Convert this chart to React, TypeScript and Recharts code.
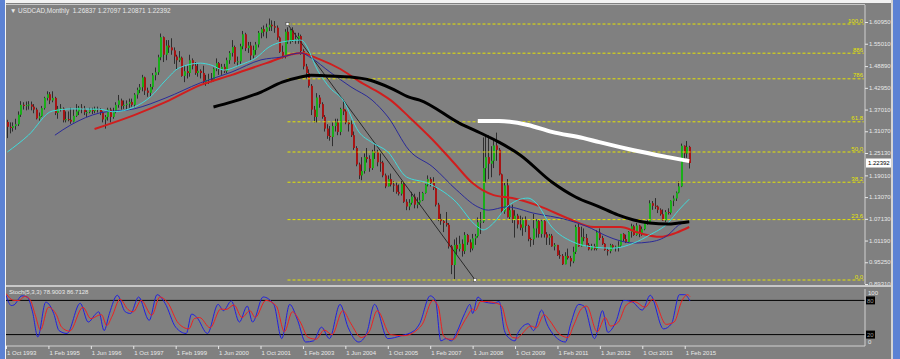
import React from 'react'
import { ComposedChart, Bar, Line, XAxis, YAxis, ReferenceLine, ReferenceDot } from 'recharts'

const FONT = '"Liberation Sans", Arial, sans-serif'
const TEXT = '#e8e8e8'
const BG = '#808080'
const YELLOW = '#e4e400'

// monthly bars, index 0 = Oct 1993 ... 258 = Apr 2015
const opens = [
  1.336, 1.323, 1.320,
  1.325, 1.330, 1.356, 1.383, 1.380, 1.382, 1.384, 1.378, 1.370, 1.346, 1.352, 1.374,
  1.402, 1.412, 1.395, 1.402, 1.361, 1.372, 1.373, 1.341, 1.344, 1.342, 1.337, 1.353,
  1.365, 1.375, 1.373, 1.363, 1.363, 1.369, 1.366, 1.372, 1.370, 1.362, 1.343, 1.350,
  1.370, 1.350, 1.365, 1.383, 1.395, 1.380, 1.383, 1.386, 1.391, 1.383, 1.411, 1.424,
  1.431, 1.458, 1.422, 1.416, 1.432, 1.464, 1.472, 1.513, 1.568, 1.520, 1.545, 1.540,
  1.532, 1.515, 1.505, 1.512, 1.462, 1.475, 1.470, 1.505, 1.490, 1.470, 1.476, 1.470,
  1.445, 1.451, 1.454, 1.451, 1.482, 1.497, 1.480, 1.487, 1.475, 1.505, 1.525, 1.541,
  1.500, 1.502, 1.543, 1.576, 1.538, 1.545, 1.518, 1.533, 1.548, 1.580, 1.590, 1.583,
  1.595, 1.602, 1.598, 1.594, 1.567, 1.528, 1.517, 1.583, 1.557, 1.587, 1.560, 1.563,
  1.571, 1.530, 1.488, 1.470, 1.435, 1.370, 1.350, 1.403, 1.385, 1.350, 1.318, 1.298,
  1.295, 1.325, 1.335, 1.309, 1.372, 1.365, 1.335, 1.330, 1.300, 1.265, 1.220, 1.190,
  1.202, 1.240, 1.235, 1.210, 1.255, 1.254, 1.226, 1.225, 1.190, 1.160, 1.180, 1.165,
  1.163, 1.145, 1.140, 1.167, 1.118, 1.105, 1.115, 1.132, 1.110, 1.116, 1.122, 1.142,
  1.165, 1.180, 1.170, 1.155, 1.110, 1.070, 1.065, 1.060, 1.055, 0.996, 0.945, 1.000,
  0.989, 1.003, 0.983, 1.027, 1.007, 0.990, 1.018, 1.024, 1.062, 1.064, 1.210, 1.240,
  1.222, 1.230, 1.272, 1.260, 1.193, 1.091, 1.163, 1.076, 1.095, 1.070, 1.080, 1.056,
  1.047, 1.068, 1.052, 1.016, 1.015, 1.045, 1.065, 1.030, 1.065, 1.029, 1.020, 1.025,
  0.996, 1.000, 0.972, 0.970, 0.947, 0.970, 0.964, 0.955, 0.981, 1.049, 0.996, 1.021,
  1.019, 1.000, 0.988, 0.997, 0.989, 1.034, 1.019, 1.003, 0.986, 0.983, 0.999, 0.993,
  0.995, 0.998, 1.030, 1.016, 1.008, 1.036, 1.051, 1.027, 1.053, 1.030, 1.043, 1.062,
  1.062, 1.114, 1.107, 1.105, 1.096, 1.084, 1.067, 1.090, 1.088, 1.121, 1.127, 1.143,
  1.160, 1.271, 1.250, 1.268,
]
const highs = [
  1.342, 1.335, 1.335,
  1.345, 1.365, 1.393, 1.390, 1.392, 1.393, 1.392, 1.385, 1.375, 1.362, 1.380, 1.405,
  1.420, 1.418, 1.420, 1.405, 1.380, 1.385, 1.376, 1.365, 1.365, 1.375, 1.370, 1.385,
  1.380, 1.385, 1.380, 1.368, 1.375, 1.375, 1.378, 1.378, 1.374, 1.365, 1.355, 1.375,
  1.375, 1.375, 1.390, 1.410, 1.400, 1.395, 1.395, 1.400, 1.400, 1.415, 1.430, 1.440,
  1.465, 1.460, 1.430, 1.440, 1.470, 1.485, 1.520, 1.578, 1.570, 1.560, 1.560, 1.565,
  1.540, 1.520, 1.530, 1.515, 1.490, 1.490, 1.520, 1.510, 1.500, 1.495, 1.480, 1.490,
  1.465, 1.468, 1.470, 1.485, 1.510, 1.500, 1.495, 1.495, 1.512, 1.530, 1.560, 1.545,
  1.515, 1.550, 1.585, 1.580, 1.555, 1.555, 1.545, 1.555, 1.585, 1.595, 1.600, 1.605,
  1.619, 1.614, 1.612, 1.600, 1.570, 1.545, 1.590, 1.595, 1.590, 1.595, 1.580, 1.580,
  1.575, 1.535, 1.495, 1.480, 1.440, 1.380, 1.415, 1.410, 1.390, 1.355, 1.330, 1.325,
  1.335, 1.345, 1.345, 1.375, 1.397, 1.370, 1.340, 1.340, 1.310, 1.270, 1.225, 1.240,
  1.250, 1.265, 1.245, 1.260, 1.275, 1.260, 1.250, 1.230, 1.195, 1.190, 1.195, 1.175,
  1.170, 1.165, 1.175, 1.170, 1.125, 1.125, 1.145, 1.140, 1.130, 1.145, 1.145, 1.167,
  1.190, 1.185, 1.185, 1.160, 1.115, 1.085, 1.070, 1.090, 1.060, 1.000, 1.015, 1.020,
  1.025, 1.015, 1.035, 1.030, 1.015, 1.030, 1.030, 1.075, 1.090, 1.294, 1.297, 1.300,
  1.270, 1.290, 1.307, 1.265, 1.195, 1.170, 1.180, 1.110, 1.110, 1.095, 1.085, 1.080,
  1.075, 1.078, 1.055, 1.020, 1.085, 1.070, 1.070, 1.068, 1.070, 1.035, 1.030, 1.030,
  1.005, 1.000, 0.985, 0.975, 0.980, 0.990, 0.970, 0.995, 1.055, 1.060, 1.050, 1.045,
  1.030, 1.005, 1.003, 1.003, 1.040, 1.045, 1.025, 1.005, 0.990, 1.003, 1.002, 0.998,
  1.010, 1.030, 1.032, 1.028, 1.038, 1.058, 1.055, 1.060, 1.055, 1.050, 1.064, 1.069,
  1.122, 1.120, 1.128, 1.108, 1.100, 1.097, 1.095, 1.100, 1.122, 1.135, 1.146, 1.174,
  1.277, 1.272, 1.284, 1.271,
]
const lows = [
  1.292, 1.305, 1.310,
  1.315, 1.325, 1.350, 1.370, 1.368, 1.370, 1.368, 1.360, 1.343, 1.340, 1.350, 1.370,
  1.395, 1.385, 1.390, 1.355, 1.345, 1.365, 1.335, 1.335, 1.338, 1.331, 1.335, 1.350,
  1.355, 1.360, 1.355, 1.350, 1.360, 1.358, 1.360, 1.362, 1.355, 1.335, 1.318, 1.340,
  1.335, 1.345, 1.360, 1.375, 1.370, 1.372, 1.370, 1.375, 1.378, 1.376, 1.400, 1.415,
  1.420, 1.410, 1.405, 1.405, 1.425, 1.450, 1.465, 1.505, 1.500, 1.505, 1.525, 1.520,
  1.495, 1.480, 1.500, 1.460, 1.445, 1.455, 1.460, 1.480, 1.465, 1.460, 1.455, 1.440,
  1.435, 1.440, 1.445, 1.447, 1.475, 1.465, 1.465, 1.470, 1.470, 1.495, 1.515, 1.495,
  1.490, 1.495, 1.535, 1.530, 1.525, 1.505, 1.510, 1.520, 1.540, 1.565, 1.570, 1.565,
  1.585, 1.585, 1.580, 1.560, 1.525, 1.510, 1.510, 1.550, 1.550, 1.555, 1.550, 1.550,
  1.520, 1.480, 1.455, 1.430, 1.355, 1.335, 1.335, 1.375, 1.345, 1.310, 1.290, 1.285,
  1.270, 1.310, 1.300, 1.300, 1.355, 1.330, 1.310, 1.295, 1.260, 1.215, 1.180, 1.177,
  1.195, 1.225, 1.200, 1.205, 1.235, 1.215, 1.200, 1.185, 1.155, 1.160, 1.160, 1.145,
  1.140, 1.135, 1.135, 1.115, 1.095, 1.095, 1.110, 1.100, 1.100, 1.110, 1.120, 1.140,
  1.160, 1.160, 1.150, 1.105, 1.065, 1.055, 1.035, 1.050, 0.990, 0.920, 0.906, 0.975,
  0.982, 0.968, 0.975, 1.000, 0.980, 0.985, 1.000, 1.020, 1.030, 1.060, 1.170, 1.180,
  1.185, 1.210, 1.230, 1.190, 1.085, 1.085, 1.075, 1.070, 1.060, 1.020, 1.045, 1.040,
  1.025, 1.035, 1.010, 0.995, 1.000, 1.020, 1.020, 1.020, 1.020, 1.000, 1.000, 0.995,
  0.985, 0.970, 0.962, 0.945, 0.947, 0.960, 0.941, 0.950, 0.975, 0.995, 0.995, 1.010,
  0.995, 0.985, 0.985, 0.985, 0.985, 1.013, 1.000, 0.984, 0.971, 0.977, 0.990, 0.982,
  0.982, 0.995, 1.010, 1.005, 1.005, 1.020, 1.025, 1.025, 1.021, 1.025, 1.040, 1.055,
  1.060, 1.096, 1.098, 1.087, 1.080, 1.066, 1.062, 1.083, 1.083, 1.106, 1.120, 1.141,
  1.158, 1.236, 1.238, 1.209,
]
const closes = [
  1.323, 1.320, 1.325,
  1.330, 1.356, 1.383, 1.380, 1.382, 1.384, 1.378, 1.370, 1.346, 1.352, 1.374, 1.402,
  1.412, 1.395, 1.402, 1.361, 1.372, 1.373, 1.341, 1.344, 1.342, 1.337, 1.353, 1.365,
  1.375, 1.373, 1.363, 1.363, 1.369, 1.366, 1.372, 1.370, 1.362, 1.343, 1.350, 1.370,
  1.350, 1.365, 1.383, 1.395, 1.380, 1.383, 1.386, 1.391, 1.383, 1.411, 1.424, 1.431,
  1.458, 1.422, 1.416, 1.432, 1.464, 1.472, 1.513, 1.568, 1.520, 1.545, 1.540, 1.532,
  1.515, 1.505, 1.512, 1.462, 1.475, 1.470, 1.505, 1.490, 1.470, 1.476, 1.470, 1.445,
  1.451, 1.454, 1.451, 1.482, 1.497, 1.480, 1.487, 1.475, 1.505, 1.525, 1.541, 1.500,
  1.502, 1.543, 1.576, 1.538, 1.545, 1.518, 1.533, 1.548, 1.580, 1.590, 1.583, 1.595,
  1.602, 1.598, 1.594, 1.567, 1.528, 1.517, 1.583, 1.557, 1.587, 1.560, 1.563, 1.571,
  1.530, 1.488, 1.470, 1.435, 1.370, 1.350, 1.403, 1.385, 1.350, 1.318, 1.298, 1.295,
  1.325, 1.335, 1.309, 1.372, 1.365, 1.335, 1.330, 1.300, 1.265, 1.220, 1.190, 1.202,
  1.240, 1.235, 1.210, 1.255, 1.254, 1.226, 1.225, 1.190, 1.160, 1.180, 1.165, 1.163,
  1.145, 1.140, 1.167, 1.118, 1.105, 1.115, 1.132, 1.110, 1.116, 1.122, 1.142, 1.165,
  1.180, 1.170, 1.155, 1.110, 1.070, 1.065, 1.060, 1.055, 0.996, 0.945, 1.000, 0.989,
  1.003, 0.983, 1.027, 1.007, 0.990, 1.018, 1.024, 1.062, 1.064, 1.210, 1.240, 1.222,
  1.230, 1.272, 1.260, 1.193, 1.091, 1.163, 1.076, 1.095, 1.070, 1.080, 1.056, 1.047,
  1.068, 1.052, 1.016, 1.015, 1.045, 1.065, 1.030, 1.065, 1.029, 1.020, 1.025, 0.996,
  1.000, 0.972, 0.970, 0.947, 0.970, 0.964, 0.955, 0.981, 1.049, 0.996, 1.021, 1.019,
  1.000, 0.988, 0.997, 0.989, 1.034, 1.019, 1.003, 0.986, 0.983, 0.999, 0.993, 0.995,
  0.998, 1.030, 1.016, 1.008, 1.036, 1.051, 1.027, 1.053, 1.030, 1.043, 1.062, 1.062,
  1.114, 1.107, 1.105, 1.096, 1.084, 1.067, 1.090, 1.088, 1.121, 1.127, 1.143, 1.160,
  1.271, 1.250, 1.268, 1.22392,
]

// moving averages: [bar index, price]
const maCyan = [
  [0, 1.254], [8, 1.3], [17, 1.366], [25, 1.372], [35, 1.371], [40, 1.364], [48, 1.377],
  [54, 1.404], [60, 1.451], [65, 1.484], [73, 1.497], [77, 1.492], [82, 1.478], [88, 1.492],
  [94, 1.511], [99, 1.541], [104, 1.555], [111, 1.56], [118, 1.47], [122, 1.43], [127, 1.396],
  [133, 1.309], [138, 1.28], [144, 1.254], [151, 1.186], [159, 1.169], [169, 1.123],
  [178, 1.049], [180, 1.041], [184, 1.06], [189, 1.104], [197, 1.128], [200, 1.115],
  [206, 1.049], [214, 1.008], [222, 0.994], [229, 0.991], [237, 1.005], [243, 1.027],
  [250, 1.06], [254, 1.095], [258, 1.125],
]
const maBlue = [
  [18, 1.3], [24, 1.328], [35, 1.361], [48, 1.372], [60, 1.402], [73, 1.443], [85, 1.473],
  [96, 1.506], [104, 1.514], [111, 1.525], [115, 1.511], [122, 1.473], [130, 1.432],
  [138, 1.396], [144, 1.35], [152, 1.259], [161, 1.213], [170, 1.15], [178, 1.104],
  [182, 1.095], [189, 1.104], [199, 1.087], [212, 1.068], [221, 1.045], [225, 1.03],
  [231, 1.013], [237, 1.005], [243, 1.008], [250, 1.027], [254, 1.054], [258, 1.063],
]
const maRed = [
  [33, 1.317], [48, 1.355], [60, 1.391], [73, 1.437], [85, 1.465], [98, 1.497], [111, 1.525],
  [118, 1.508], [126, 1.481], [133, 1.448], [141, 1.415], [145, 1.396], [152, 1.35],
  [161, 1.287], [169, 1.224], [176, 1.169], [184, 1.136], [191, 1.128], [202, 1.104],
  [212, 1.073], [222, 1.049], [232, 1.049], [239, 1.033], [247, 1.022], [253, 1.033],
  [258, 1.049],
]
const maBlack = [
  [78, 1.377], [85, 1.391], [96, 1.418], [104, 1.445], [111, 1.459], [115, 1.464],
  [122, 1.462], [130, 1.459], [137, 1.451], [145, 1.429], [152, 1.404], [156, 1.396],
  [171, 1.333], [179, 1.306], [186, 1.281], [194, 1.246], [206, 1.172], [215, 1.131],
  [224, 1.104], [231, 1.082], [237, 1.068], [243, 1.06], [250, 1.057], [254, 1.06], [258, 1.063],
]
const maWhite = [
  [178, 1.339], [186, 1.339], [197, 1.328], [206, 1.309], [218, 1.292], [224, 1.281],
  [237, 1.259], [250, 1.24], [258, 1.229],
]

// Stoch(5,3,3): [bar index, value]
const stochMain = [
  [0, 89], [2, 71], [3, 72], [6, 88], [8, 86], [10, 60], [12, 16], [15, 77], [18, 57], [20, 27],
  [23, 22], [28, 75], [31, 42], [34, 57], [35, 60], [37, 27], [39, 57], [42, 89], [45, 60],
  [47, 57], [50, 86], [54, 45], [57, 90], [60, 75], [64, 33], [68, 22], [70, 56], [72, 50],
  [76, 22], [80, 73], [82, 62], [85, 79], [88, 42], [91, 70], [93, 42], [97, 86], [101, 73],
  [104, 13], [107, 73], [110, 45], [113, 7], [116, 9], [119, 33], [122, 13], [126, 73],
  [129, 33], [133, 7], [136, 22], [139, 73], [144, 13], [149, 18], [154, 27], [156, 39],
  [160, 88], [162, 80], [164, 9], [166, 13], [168, 9], [170, 24], [173, 57], [175, 73],
  [176, 57], [178, 86], [180, 78], [184, 75], [186, 78], [188, 27], [190, 13], [192, 9],
  [193, 22], [197, 39], [199, 27], [202, 63], [204, 39], [208, 13], [211, 7], [213, 39],
  [216, 73], [218, 70], [222, 13], [225, 62], [227, 24], [230, 42], [233, 80], [236, 78],
  [240, 63], [243, 89], [248, 30], [251, 39], [254, 90], [256, 90], [258, 78.9],
]
const stochSignal = [
  [0, 92], [3, 80], [5, 80], [7, 87], [9, 82], [11, 55], [13, 28], [16, 68], [19, 55], [21, 33],
  [24, 26], [29, 68], [32, 48], [35, 54], [36, 55], [38, 36], [40, 52], [43, 82], [46, 64],
  [48, 60], [51, 80], [55, 54], [58, 86], [61, 76], [65, 40], [69, 30], [71, 48], [73, 50],
  [77, 32], [81, 65], [83, 64], [86, 72], [89, 50], [92, 62], [94, 50], [98, 80], [102, 70],
  [105, 25], [108, 60], [111, 42], [114, 15], [117, 12], [120, 28], [123, 20], [127, 62],
  [130, 40], [134, 15], [137, 25], [140, 62], [145, 20], [150, 18], [155, 28], [157, 38],
  [161, 80], [163, 70], [165, 18], [167, 12], [169, 12], [171, 28], [174, 52], [176, 65],
  [177, 62], [179, 78], [181, 78], [185, 75], [187, 70], [189, 35], [191, 15], [193, 14],
  [194, 18], [198, 35], [200, 32], [203, 55], [205, 45], [209, 20], [212, 15], [214, 35],
  [217, 65], [219, 70], [223, 25], [226, 50], [228, 35], [231, 42], [234, 72], [237, 78],
  [241, 68], [244, 82], [249, 38], [252, 42], [255, 80], [257, 90], [258, 86.7],
]

const priceTicks = [0.8931, 0.9525, 1.0119, 1.0713, 1.1307, 1.1901, 1.2513, 1.3107, 1.3701, 1.4295, 1.4889, 1.5501, 1.6095]
const fibNames = ['100.0', '886', '786', '61.8', '50.0', '38.2', '23.6', '0.0']
const fibPrices = [1.604, 1.5242, 1.4542, 1.3366, 1.254, 1.1714, 1.0692, 0.904]
const timeTicks = [0, 16, 32, 48, 64, 80, 96, 112, 128, 144, 160, 176, 192, 208, 224, 240, 256]
const timeLabels = [
  '1 Oct 1993', '1 Feb 1995', '1 Jun 1996', '1 Oct 1997', '1 Feb 1999', '1 Jun 2000',
  '1 Oct 2001', '1 Feb 2003', '1 Jun 2004', '1 Oct 2005', '1 Feb 2007', '1 Jun 2008',
  '1 Oct 2009', '1 Feb 2011', '1 Jun 2012', '1 Oct 2013', '1 Feb 2015',
]
const lastClose = 1.22392
const SLOTS = 325

const toMap = (pts: number[][]) => new Map(pts.map((p) => [p[0], p[1]]))
const mCyan = toMap(maCyan)
const mBlue = toMap(maBlue)
const mRed = toMap(maRed)
const mBlack = toMap(maBlack)
const mWhite = toMap(maWhite)
const mK = toMap(stochMain)
const mD = toMap(stochSignal)

const rows = Array.from({ length: SLOTS }, (_, i) => ({
  i,
  o: opens[i],
  h: highs[i],
  l: lows[i],
  c: closes[i],
  range: opens[i] == null ? null : [lows[i], highs[i]],
  cyan: mCyan.get(i),
  blue: mBlue.get(i),
  red: mRed.get(i),
  black: mBlack.get(i),
  white: mWhite.get(i),
  k: mK.get(i),
  d: mD.get(i),
}))

function Candle(props: any) {
  const { x, y, width, height, payload } = props
  if (!payload || payload.o == null) return null
  const { o, h, l, c } = payload
  const top = Math.min(y, y + height)
  const span = Math.abs(height)
  const k = h > l ? span / (h - l) : 0
  const cx = Math.round(x + width / 2)
  const bTop = top + (h - Math.max(o, c)) * k
  const bBot = top + (h - Math.min(o, c)) * k
  return (
    <g>
      <line x1={cx + 0.5} x2={cx + 0.5} y1={top} y2={top + span} stroke="#2e2e2e" strokeWidth={1} />
      <rect x={cx} y={bTop} width={2} height={Math.max(1, bBot - bTop)} fill={c >= o ? '#1aae1a' : '#a81414'} />
    </g>
  )
}

function PriceTick(props: any) {
  const { x, y, payload } = props
  const v = payload.value
  if (v === lastClose) {
    return (
      <g>
        <rect x={x + 1} y={y - 4.5} width={27} height={9} fill="#ffffff" />
        <text x={x + 3} y={y + 2.2} fontSize={6} fontFamily={FONT} fill="#000">{v.toFixed(5)}</text>
      </g>
    )
  }
  return (
    <g>
      <line x1={x} x2={x + 3} y1={y + 0.5} y2={y + 0.5} stroke={TEXT} />
      <text x={x + 4} y={y + 2.2} fontSize={6} fontFamily={FONT} fill={TEXT}>{v.toFixed(5)}</text>
    </g>
  )
}

function StochTick(props: any) {
  const { x, y, payload } = props
  const v = payload.value
  if (v === 80 || v === 20) {
    return (
      <g>
        <rect x={x + 1} y={y - 4} width={9} height={8} fill="#000" />
        <text x={x + 2} y={y + 2.2} fontSize={6} fontFamily={FONT} fill="#9a9a9a">{v}</text>
      </g>
    )
  }
  const dy = v === 100 ? 4 : -4
  return (
    <text x={x + 3} y={y + dy + 2.2} fontSize={6} fontFamily={FONT} fill={TEXT}>{v}</text>
  )
}

function TimeTick(props: any) {
  const { x, y, payload } = props
  const n = timeTicks.indexOf(payload.value)
  return (
    <g>
      <line x1={x + 0.5} x2={x + 0.5} y1={y} y2={y + 3} stroke={TEXT} />
      <text x={x + 1} y={y + 8.5} fontSize={6} fontFamily={FONT} fill={TEXT}>{timeLabels[n]}</text>
    </g>
  )
}

const FibText = (name: string) => (props: any) => (
  <text x={props.cx + 2} y={props.cy - 1.5} textAnchor="end" fontSize={6} fontFamily={FONT} fill={YELLOW}>{name}</text>
)

const Anchor = (props: any) => (
  <rect x={props.cx - 1.5} y={props.cy - 1.5} width={3} height={3} fill="#fff" stroke="#333" strokeWidth={0.5} />
)

export default function App() {
  return (
    <div style={{ position: 'absolute', left: 0, top: 0, width: 900, height: 359, background: BG, overflow: 'hidden', fontFamily: FONT }}>
      <div style={{ position: 'absolute', left: 0, top: 0, width: 900, height: 3, background: '#f2f2f2' }} />
      <div style={{ position: 'absolute', left: 6, top: 4, width: 859, height: 1, background: '#c8c8c8' }} />

      <div style={{ position: 'absolute', left: 0, top: 0 }}>
        <ComposedChart width={900} height={290} data={rows} margin={{ top: 5, right: 0, bottom: 6, left: 6 }}>
          <XAxis dataKey="i" hide />
          <YAxis
            orientation="right"
            domain={[0.8931, 1.656]}
            allowDataOverflow
            ticks={[...priceTicks, lastClose]}
            interval={0}
            width={35}
            tickSize={0}
            tickMargin={0}
            axisLine={{ stroke: '#d0d0d0' }}
            tickLine={false}
            tick={<PriceTick />}
          />
          {fibPrices.map((p) => (
            <ReferenceLine key={p} segment={[{ x: 106, y: p }, { x: 324, y: p }]} stroke={YELLOW} strokeDasharray="3 2" strokeWidth={1} />
          ))}
          <ReferenceLine segment={[{ x: 106, y: fibPrices[0] }, { x: 177, y: fibPrices[7] }]} stroke="#2a2a2a" strokeWidth={1} />
          <Bar dataKey="range" shape={<Candle />} barSize={2} isAnimationActive={false} />
          <Line dataKey="red" stroke="#d01e1e" strokeWidth={2} dot={false} connectNulls type="monotone" isAnimationActive={false} />
          <Line dataKey="blue" stroke="#2a2a98" strokeWidth={1} dot={false} connectNulls type="monotone" isAnimationActive={false} />
          <Line dataKey="cyan" stroke="#40dada" strokeWidth={1} dot={false} connectNulls type="monotone" isAnimationActive={false} />
          <Line dataKey="black" stroke="#000000" strokeWidth={3} dot={false} connectNulls type="monotone" isAnimationActive={false} />
          <Line dataKey="white" stroke="#ffffff" strokeWidth={4} dot={false} connectNulls type="monotone" isAnimationActive={false} />
          {fibPrices.map((p, n) => (
            <ReferenceDot key={'t' + n} x={323} y={p} shape={FibText(fibNames[n])} />
          ))}
          <ReferenceDot x={106} y={fibPrices[0]} shape={Anchor} />
          <ReferenceDot x={177} y={fibPrices[7]} shape={Anchor} />
        </ComposedChart>
      </div>

      <div style={{ position: 'absolute', left: 6, top: 285, width: 885, height: 2, background: '#c8c8c8' }} />

      <div style={{ position: 'absolute', left: 0, top: 287 }}>
        <ComposedChart width={900} height={72} data={rows} margin={{ top: 2, right: 0, bottom: 0, left: 6 }}>
          <XAxis
            dataKey="i"
            ticks={timeTicks}
            interval={0}
            height={13}
            tickSize={0}
            tickMargin={0}
            tickLine={false}
            axisLine={{ stroke: '#d0d0d0' }}
            tick={<TimeTick />}
          />
          <YAxis
            orientation="right"
            domain={[0, 100]}
            ticks={[0, 20, 80, 100]}
            interval={0}
            width={35}
            tickSize={0}
            tickMargin={0}
            axisLine={{ stroke: '#d0d0d0' }}
            tickLine={false}
            tick={<StochTick />}
          />
          <ReferenceLine y={80} stroke="#000" strokeWidth={1} />
          <ReferenceLine y={20} stroke="#000" strokeWidth={1} />
          <Line dataKey="k" stroke="#2020e0" strokeWidth={1} dot={false} connectNulls type="monotone" isAnimationActive={false} />
          <Line dataKey="d" stroke="#ee2020" strokeWidth={1} dot={false} connectNulls type="monotone" isAnimationActive={false} />
        </ComposedChart>
      </div>

      <div style={{ position: 'absolute', left: 9, top: 289, fontSize: 6, color: TEXT, whiteSpace: 'nowrap' }}>
        Stoch(5,3,3) 78.9003 86.7128
      </div>
      <div style={{ position: 'absolute', left: 10, top: 7, fontSize: 6.4, color: TEXT, whiteSpace: 'nowrap' }}>
        ▼ USDCAD,Monthly&nbsp; 1.26837 1.27097 1.20871 1.22392
      </div>

      <div style={{ position: 'absolute', left: 0, top: 0, width: 5, height: 359, background: '#5c82d4' }} />
      <div style={{ position: 'absolute', left: 5, top: 0, width: 1, height: 359, background: '#f4f4f4' }} />
      <div style={{ position: 'absolute', left: 891, top: 0, width: 2, height: 359, background: '#d4d4d4' }} />
      <div style={{ position: 'absolute', left: 893, top: 0, width: 7, height: 359, background: '#5c82d4' }} />
    </div>
  )
}
